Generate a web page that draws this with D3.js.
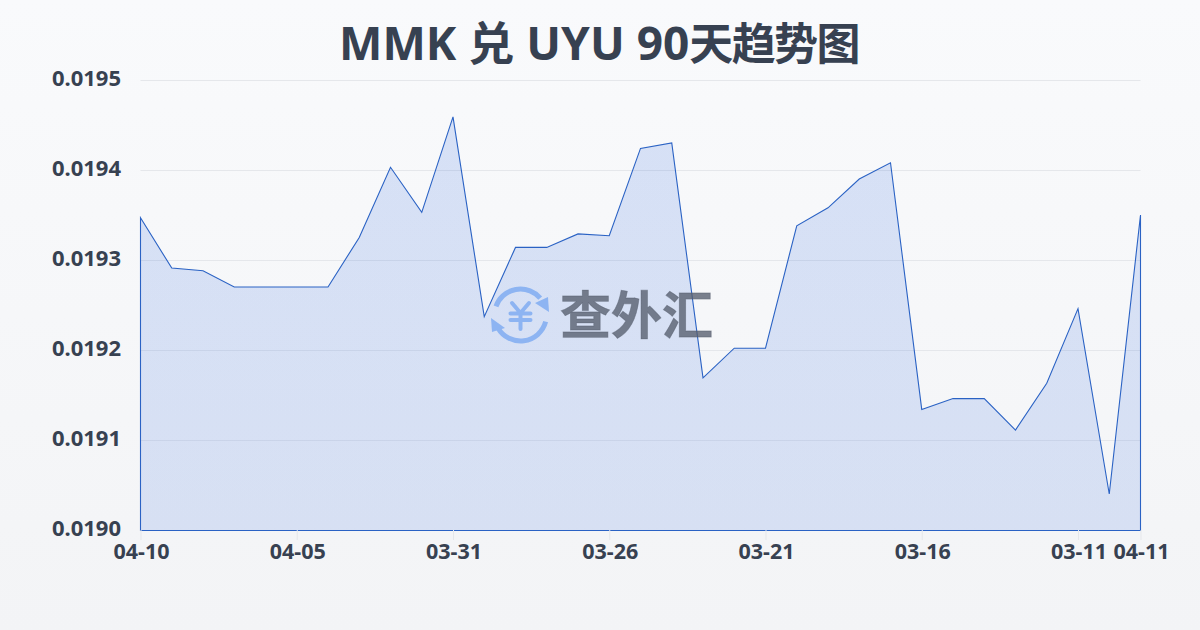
<!DOCTYPE html>
<html><head><meta charset="utf-8">
<script src="https://cdn.jsdelivr.net/npm/d3@7/dist/d3.min.js"></script>
<style>html,body{margin:0;padding:0;width:1200px;height:630px;overflow:hidden}svg{display:block}
text{font-family:"Noto Sans","Noto Sans CJK SC",sans-serif}</style></head><body>
<script>
const titleLatin = "MMK 兑 UYU 90";
const titleCjk = "天趋势图";
const dates = ["04-10","04-09","04-08","04-07","04-06","04-05","04-04","04-03","04-02","04-01","03-31","03-30","03-29","03-28","03-27","03-26","03-25","03-24","03-23","03-22","03-21","03-20","03-19","03-18","03-17","03-16","03-15","03-14","03-13","03-12","03-11","03-10","04-11"];
const rates = [0.019347,0.019291,0.019288,0.01927,0.01927,0.01927,0.01927,0.019325,0.019403,0.019353,0.019459,0.019237,0.019314,0.019314,0.019329,0.019327,0.019424,0.01943,0.019169,0.019202,0.019202,0.019338,0.019358,0.01939,0.019408,0.019134,0.019146,0.019146,0.019111,0.019163,0.019246,0.01904,0.01935];
const xTickLabels = ["04-10","04-05","03-31","03-26","03-21","03-16","03-11","04-11"];
const yTickValues = [0.019,0.0191,0.0192,0.0193,0.0194,0.0195];
const W=1200,H=630,L=140.5,R=1140.5,T=80,B=530.5;
const svg=d3.select("body").append("svg").attr("width",W).attr("height",H);
const defs=svg.append("defs");
const bg=defs.append("linearGradient").attr("id","bg").attr("x1",0).attr("y1",0).attr("x2",0).attr("y2",1);
bg.append("stop").attr("offset",0).attr("stop-color","#f9fafc");
bg.append("stop").attr("offset",1).attr("stop-color","#f3f4f6");
const ag=defs.append("linearGradient").attr("id","ag").attr("gradientUnits","userSpaceOnUse").attr("x1",0).attr("y1",T).attr("x2",0).attr("y2",B);
ag.append("stop").attr("offset",0).attr("stop-color","#2560dc").attr("stop-opacity",0.16);
ag.append("stop").attr("offset",1).attr("stop-color","#2560dc").attr("stop-opacity",0.14);
svg.append("rect").attr("width",W).attr("height",H).attr("fill","url(#bg)");
const title=svg.append("text").attr("x",599).attr("y",60).attr("text-anchor","middle").attr("font-weight",700).attr("fill","#374151");
title.append("tspan").text(titleLatin).attr("font-size",46);
title.append("tspan").text(titleCjk).attr("font-size",44).attr("letter-spacing",-1.6);
const x=d3.scalePoint().domain(dates.map((d,i)=>i)).range([L,R]);
const y=d3.scaleLinear().domain([0.019,0.0195]).range([530,T]);
// grid
svg.append("g").selectAll("line").data(yTickValues.slice(1)).join("line")
  .attr("x1",L).attr("x2",R).attr("y1",d=>y(d)+.5).attr("y2",d=>y(d)+.5).attr("stroke","#e5e7eb").attr("stroke-width",1);
// area + line
const area=d3.area().x((d,i)=>x(i)).y0(B).y1(d=>y(d));
svg.append("path").datum(rates).attr("d",area).attr("fill","url(#ag)");
svg.append("path").datum(rates).attr("d",area).attr("fill","none").attr("stroke","#2a62c4").attr("stroke-width",1.1);
// axes
const tickIdx=dates.map((d,i)=>i).filter(i=>xTickLabels.includes(dates[i]));
const ax=d3.axisBottom(x).tickValues(tickIdx).tickFormat(i=>dates[i]).tickSize(10).tickPadding(4);
const gx=svg.append("g").attr("transform",`translate(0,530)`).call(ax);
gx.select(".domain").remove();
gx.selectAll("line").attr("stroke","#e5e7eb");
gx.selectAll("text").attr("font-size",21.5).attr("font-weight",700).attr("fill","#374151").attr("dy","0.7em").attr("dx",0.5);
const ay=d3.axisLeft(y).tickValues(yTickValues).tickFormat(d3.format(".4f")).tickSize(0).tickPadding(19);
const gy=svg.append("g").attr("transform",`translate(140,0)`).call(ay);
gy.select(".domain").remove();
gy.selectAll("text").attr("font-size",22).attr("font-weight",700).attr("fill","#374151").attr("dy","0.27em");
// watermark
const wm=svg.append("g");
const ic=wm.append("g").attr("transform","translate(520.5,315)").attr("fill","none").attr("stroke","#8db4f2").attr("stroke-linecap","round");
const arc=d3.arc().innerRadius(26).outerRadius(26);
ic.append("path").attr("d",arc({startAngle:-1.23,endAngle:0.86})).attr("stroke-width",5);
ic.append("path").attr("d",arc({startAngle:1.83,endAngle:4.19})).attr("stroke-width",5);
ic.append("path").attr("d",d3.line()([[14.5,-12],[27.5,-18],[28.5,-3]])).attr("fill","#8db4f2").attr("stroke","none");
ic.append("path").attr("d",d3.line()([[-29.5,3],[-15.5,13],[-28.5,17]])).attr("fill","#8db4f2").attr("stroke","none");
ic.append("path").attr("d","M-8.5,-12L0,-2L8.5,-12M-10,-1.5H10M-10,5H10M0,-2V14").attr("stroke-width",4);
wm.append("text").text("查外汇").attr("x",560).attr("y",334).attr("font-size",51).attr("font-weight",700).attr("fill","#565d6d").attr("fill-opacity",0.78).attr("stroke","#565d6d").attr("stroke-opacity",0.5).attr("stroke-width",0.8);
</script></body></html>
